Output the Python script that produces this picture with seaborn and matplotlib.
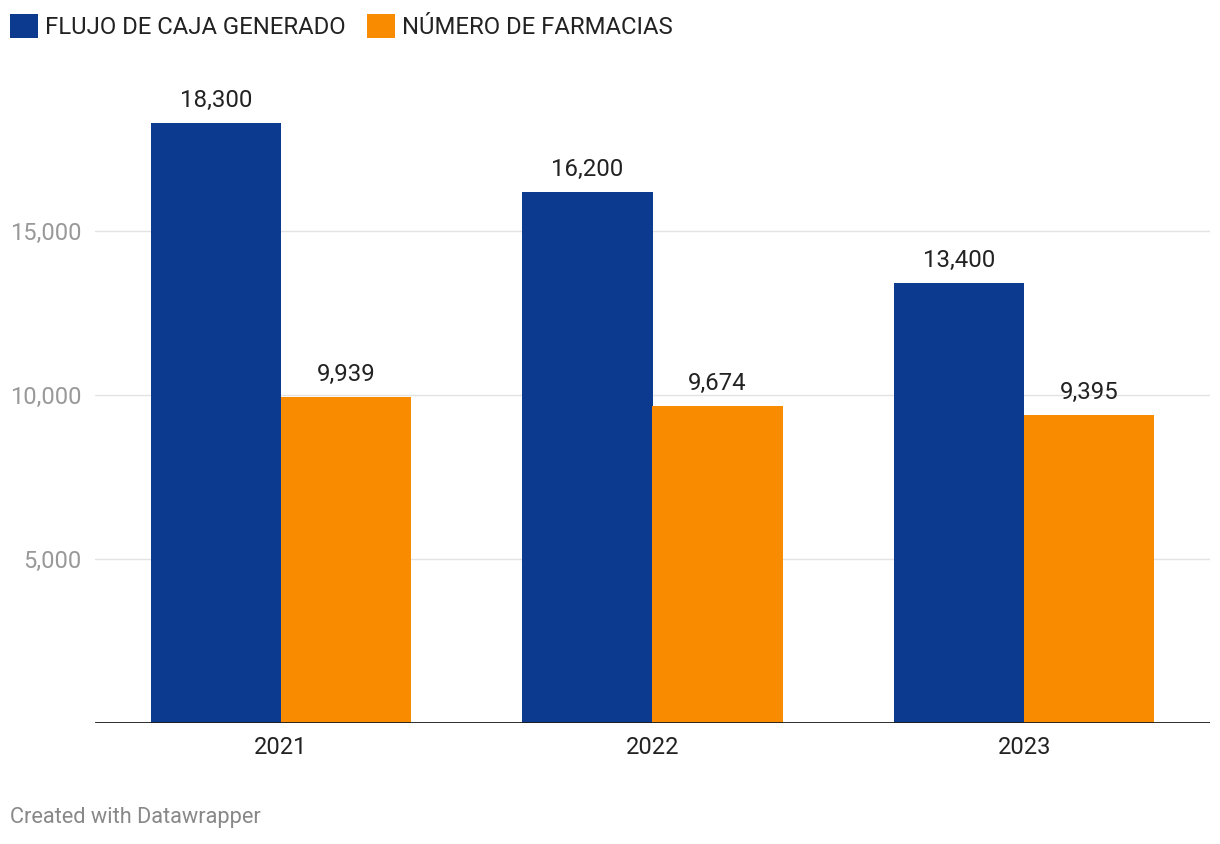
import matplotlib
matplotlib.use("Agg")
import matplotlib.pyplot as plt
import seaborn as sns
import pandas as pd

years = ["2021", "2022", "2023"]
series_names = ["FLUJO DE CAJA GENERADO", "NÚMERO DE FARMACIAS"]
flujo = [18300, 16200, 13400]
farmacias = [9939, 9674, 9395]
y_ticks = [5000, 10000, 15000]
colors = ["#0b3a8f", "#f98b00"]

sns.set_theme(style="white")
plt.rcParams['font.family'] = ['Roboto', 'DejaVu Sans']

df = pd.DataFrame({
    "year": years * 2,
    "series": [series_names[0]] * 3 + [series_names[1]] * 3,
    "value": flujo + farmacias,
})

W, H = 1220, 844
fig = plt.figure(figsize=(W / 100, H / 100), dpi=100)
ax = fig.add_axes([95 / W, 1 - 723 / H, (1210 - 95) / W, (723 - 67) / H])

sns.barplot(data=df, x="year", y="value", hue="series", palette=colors,
            width=0.7, saturation=1, ax=ax, legend=True, zorder=3,
            linewidth=0, edgecolor="none")

ax.set_xlim(-0.5, 2.5)
ax.set_ylim(0, 20000)
ax.set_yticks(y_ticks)
ax.set_yticklabels([f"{v:,}" for v in y_ticks])
ax.set_xlabel("")
ax.set_ylabel("")
ax.grid(axis="y", color="#e3e3e3", linewidth=1, zorder=0)
ax.set_axisbelow(True)
for s in ax.spines.values():
    s.set_visible(False)
ax.axhline(0, color="#1a1a1a", linewidth=2, zorder=4)
ax.tick_params(axis="y", length=0, pad=10, labelsize=17, labelcolor="#999999")
ax.tick_params(axis="x", length=0, pad=9, labelsize=17, labelcolor="#222222")

for cont in ax.containers:
    ax.bar_label(cont, labels=[f"{v:,.0f}" for v in cont.datavalues],
                 padding=8, fontsize=17.3, color="#222222")

handles, labels = ax.get_legend_handles_labels()
ax.get_legend().remove()
fig.legend(handles, labels, loc="upper left", bbox_to_anchor=(10 / W, 1 - 14 / H),
           ncol=2, frameon=False, fontsize=17.2, labelcolor="#222222",
           handlelength=1.17, handleheight=1.17, handletextpad=0.29,
           columnspacing=0.92, borderaxespad=0, borderpad=0)

fig.text(10 / W, 1 - 818 / H, "Created with Datawrapper", fontsize=15.7,
         color="#888888", va="center", ha="left")

fig.savefig("out.png", dpi=100)
